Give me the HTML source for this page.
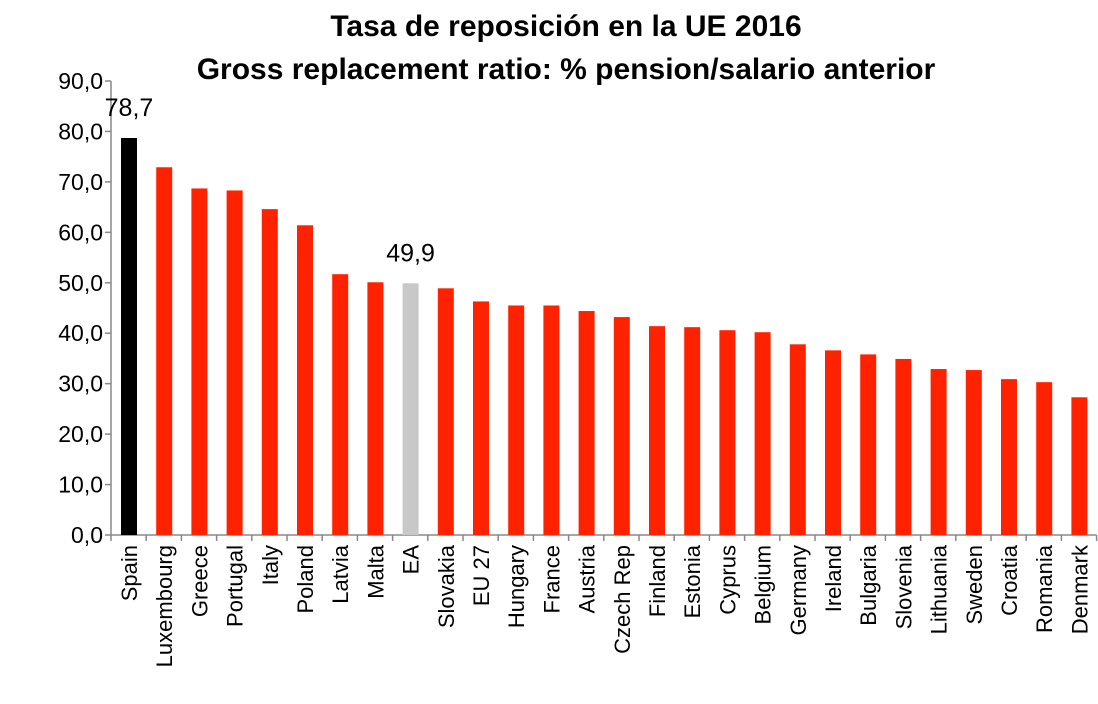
<!DOCTYPE html>
<html><head><meta charset="utf-8"><style>
body{margin:0;background:#fff;font-family:"Liberation Sans",sans-serif}
</style></head><body>
<svg id="c" width="1098" height="699" xmlns="http://www.w3.org/2000/svg">
<text x="566" y="36" text-anchor="middle" font-size="30" font-weight="bold">Tasa de reposición en la UE 2016</text>
<text x="566" y="79" text-anchor="middle" font-size="30" font-weight="bold">Gross replacement ratio: % pension/salario anterior</text>
<g id="plot"></g>
</svg>
<script>
const categories=["Spain","Luxembourg","Greece","Portugal","Italy","Poland","Latvia","Malta","EA","Slovakia","EU 27","Hungary","France","Austria","Czech Rep","Finland","Estonia","Cyprus","Belgium","Germany","Ireland","Bulgaria","Slovenia","Lithuania","Sweden","Croatia","Romania","Denmark"];
const values=[78.7,72.9,68.7,68.3,64.6,61.4,51.7,50.1,49.9,48.9,46.3,45.5,45.5,44.4,43.2,41.4,41.2,40.6,40.2,37.8,36.6,35.8,34.9,32.9,32.7,30.9,30.3,27.3];
const tickValues=[0,10,20,30,40,50,60,70,80,90];
const tickLabels=["0,0","10,0","20,0","30,0","40,0","50,0","60,0","70,0","80,0","90,0"];
const ns="http://www.w3.org/2000/svg";
const g=document.getElementById('plot');
const y0=535,y90=81,x0=111,step=35.2,bw=16;
const y=v=>y0-(y0-y90)*v/90;
const x=i=>x0+18+i*step;
function mk(t,a){const e=document.createElementNS(ns,t);for(const k in a)e.setAttribute(k,a[k]);g.appendChild(e);return e;}
let ax=mk('line',{x1:x0,y1:y90,x2:x0,y2:y0,stroke:'#888','stroke-width':1.5});


let bx=mk('line',{x1:x0,y1:y0,x2:x0+categories.length*step,y2:y0,stroke:'#888','stroke-width':1.5});


tickValues.forEach((v,i)=>{
 let tk=mk('line',{x1:x0-6,y1:y(v),x2:x0,y2:y(v),stroke:'#888','stroke-width':1.5});
 
 
 let t=mk('text',{x:x0-8,y:y(v)+8,'text-anchor':'end','font-size':23});
 t.textContent=tickLabels[i];
 
 
});
for(let i=0;i<=categories.length;i++){
 let tk=mk('line',{x1:x0+i*step,y1:y0,x2:x0+i*step,y2:y0+6,stroke:'#888','stroke-width':1.5});
 
 
}
categories.forEach((c,i)=>{
 const col=c==="Spain"?"#000":c==="EA"?"#c8c8c8":"#ff2200";
 let r=mk('rect',{x:x(i)-bw/2,y:y(values[i]),width:bw,height:y0-y(values[i]),fill:col});
 
 
 let t=mk('text',{x:0,y:0,'text-anchor':'end','font-size':22,transform:`translate(${x(i)+8},${y0+10}) rotate(-90)`});
 t.textContent=c;
 
 
 if(c==="Spain"||c==="EA"){
  let l=mk('text',{x:x(i),y:y(values[i])-22,'text-anchor':'middle','font-size':25});
  l.textContent=values[i].toFixed(1).replace('.',',');
  
  
 }
});
</script>
</body></html>
